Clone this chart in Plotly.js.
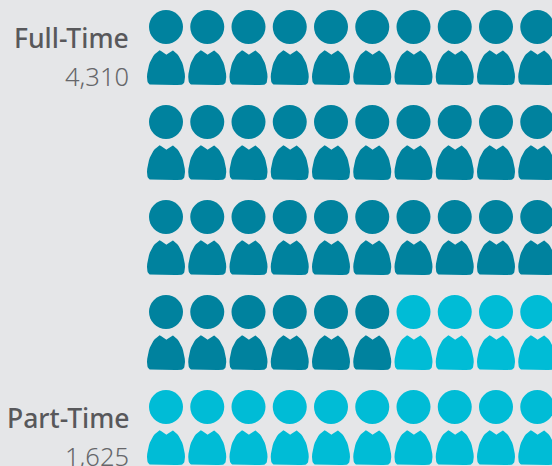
<!DOCTYPE html>
<html>
<head>
<meta charset="utf-8">
<script src="https://cdn.plot.ly/plotly-3.0.1.min.js"></script>
<style>html,body{margin:0;padding:0;background:#e5e6e8;overflow:hidden}</style>
</head>
<body>
<div id="chart" style="width:552px;height:466px"></div>
<script>
const categories = ['Full-Time', 'Part-Time'];
const values = [4310, 1625];
const valueLabels = ['4,310', '1,625'];
const peoplePerIcon = 120;
const colors = ['#00829e', '#00bcd6'];

const W = 552, H = 466, COLS = 10;
const X0 = 166, DX = 41.25, Y0 = 27, DY = 95;   // pixel placement of the icon grid
const toCol = px => px / DX, toRow = px => px / DY;

// Body outline relative to head centre, in px, as cubic segments
const bodySegs = [
  [[-5,24],[-3.5,25.2],[-2,26.5],[0,28]],
  [[0,28],[2,26.5],[3.5,25.2],[5,24]],
  [[5,24],[5.6,23.4],[6.4,23.2],[7,23.5]],
  [[7,23.5],[13,27],[18.6,37],[19,50]],
  [[19,50],[19,55],[18,58],[13.5,58]],
  [[13.5,58],[5,58],[-5,58],[-13.5,58]],
  [[-13.5,58],[-18,58],[-19,55],[-19,50]],
  [[-19,50],[-18.6,37],[-13,27],[-7,23.5]],
  [[-7,23.5],[-6.4,23.2],[-5.6,23.4],[-5,24]]
];
function bez(s, t) {
  const u = 1 - t;
  return [0, 1].map(k => u*u*u*s[0][k] + 3*u*u*t*s[1][k] + 3*u*t*t*s[2][k] + t*t*t*s[3][k]);
}
const outline = [];
bodySegs.forEach(s => { for (let i = 0; i < 12; i++) outline.push(bez(s, i / 12)); });
outline.push(outline[0]);

let cursor = 0;
const traces = [];
categories.forEach((name, c) => {
  const n = Math.round(values[c] / peoplePerIcon);
  const hx = [], hy = [], bx = [], by = [];
  for (let i = 0; i < n; i++, cursor++) {
    const col = cursor % COLS, row = Math.floor(cursor / COLS);
    hx.push(col); hy.push(row);
    outline.forEach(p => { bx.push(col + toCol(p[0])); by.push(row + toRow(p[1])); });
    bx.push(null); by.push(null);
  }
  traces.push({type:'scatter', mode:'lines', x:bx, y:by, fill:'toself', fillcolor:colors[c],
    line:{width:0, color:colors[c]}, hoverinfo:'skip', name:name, showlegend:false});
  traces.push({type:'scatter', mode:'markers', x:hx, y:hy,
    marker:{symbol:'circle', size:34, color:colors[c], line:{width:0}},
    hoverinfo:'skip', name:name, showlegend:false});
});

const labelFont = '"Noto Sans", "Open Sans", sans-serif';
const labelRows = [0, 4];
const annotations = [];
categories.forEach((name, c) => {
  const yr = labelRows[c];
  annotations.push({xref:'paper', yref:'y', x:130/W, y:yr, xanchor:'right', yanchor:'middle', yshift:-11,
    text:name, showarrow:false, align:'right', borderpad:0,
    font:{family:labelFont, size:26.5, color:'#58585b', weight:500}});
  annotations.push({xref:'paper', yref:'y', x:130/W, y:yr, xanchor:'right', yanchor:'middle', yshift:-49,
    text:valueLabels[c], showarrow:false, align:'right', borderpad:0,
    font:{family:labelFont, size:25.5, color:'#66666a', weight:300}});
});

Plotly.newPlot('chart', traces, {
  width:W, height:H, margin:{l:0,r:0,t:0,b:0},
  paper_bgcolor:'#e5e6e8', plot_bgcolor:'#e5e6e8', showlegend:false,
  xaxis:{visible:false, fixedrange:true, range:[-X0/DX, (W-X0)/DX]},
  yaxis:{visible:false, fixedrange:true, range:[(H-Y0)/DY, -Y0/DY]},
  annotations:annotations
}, {displayModeBar:false, staticPlot:true});
</script>
</body>
</html>
